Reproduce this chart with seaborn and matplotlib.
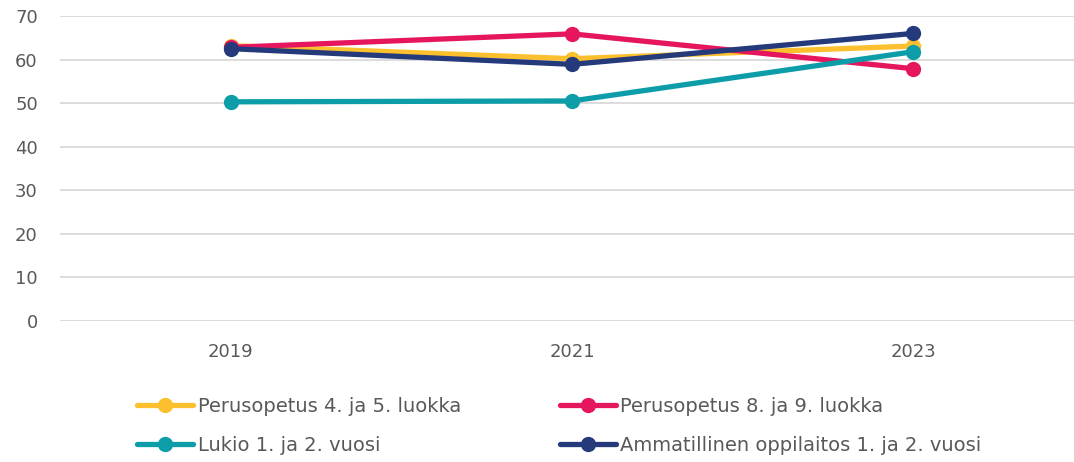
import pandas as pd
import seaborn as sns
import matplotlib.pyplot as plt

# survey years and series values (%)
years = ["2019", "2021", "2023"]
perus_4_5 = [63.2, 60.2, 63.1]
perus_8_9 = [62.8, 65.9, 57.9]
lukio = [50.3, 50.5, 61.8]
ammatillinen = [62.5, 58.9, 66.0]

names = ["Perusopetus 4. ja 5. luokka", "Perusopetus 8. ja 9. luokka",
         "Lukio 1. ja 2. vuosi", "Ammatillinen oppilaitos 1. ja 2. vuosi"]
colors = ["#FCC02E", "#E5165E", "#0D9DA9", "#243A7B"]

rows = []
for name, vals in zip(names, [perus_4_5, perus_8_9, lukio, ammatillinen]):
    for y, v in zip(years, vals):
        rows.append({"vuosi": y, "arvo": v, "ryhma": name})
df = pd.DataFrame(rows)

sns.set_style("white")
plt.rcParams["font.family"] = ["DejaVu Sans"]
grey = "#595959"

fig = plt.figure(figsize=(10.74, 4.62), dpi=100)
# plot area runs a bit past the right edge of the picture, as in the original
ax = fig.add_axes([0.0559, 0.3052, 0.9534, 0.6602])

sns.lineplot(data=df, x="vuosi", y="arvo", hue="ryhma", hue_order=names,
             palette=colors, marker="o", markersize=11, markeredgewidth=0,
             linewidth=3.8, ax=ax, sort=False, clip_on=False)

ax.set_xlim(-0.5, 2.5)
ax.set_ylim(0, 70)
ax.set_yticks(range(0, 71, 10))
ax.yaxis.grid(True, color="#d9d9d9", linewidth=1.3)
ax.set_axisbelow(True)
for s in ax.spines.values():
    s.set_visible(False)
ax.tick_params(axis="both", length=0, labelsize=13, labelcolor=grey)
ax.tick_params(axis="y", pad=16)
ax.tick_params(axis="x", pad=16)
ax.set_xlabel("")
ax.set_ylabel("")

handles, labels = ax.get_legend_handles_labels()
order = [0, 2, 1, 3]
ax.legend([handles[i] for i in order], [labels[i] for i in order],
          ncol=2, loc="center", bbox_to_anchor=(0.521, 0.078),
          bbox_transform=fig.transFigure, frameon=False, fontsize=14,
          labelcolor=grey, handlelength=2.85, handletextpad=0.25,
          columnspacing=5.1, labelspacing=1.05)

fig.savefig("out.png", dpi=100)
